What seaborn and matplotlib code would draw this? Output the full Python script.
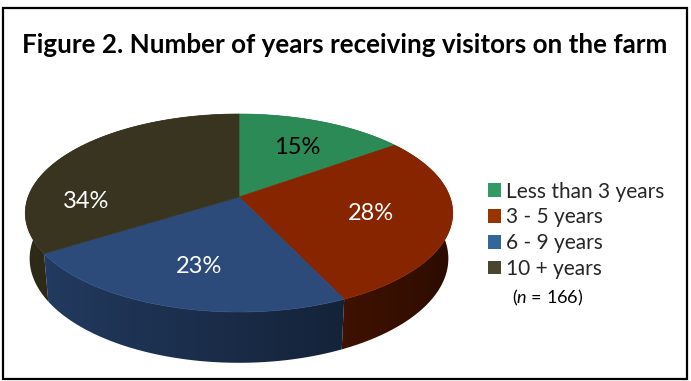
import numpy as np
import matplotlib
matplotlib.use("Agg")
import matplotlib.pyplot as plt
from matplotlib.patches import Polygon, Rectangle, Patch
import matplotlib.colors as mcolors
import seaborn as sns

# ---- data ----
categories = ["Less than 3 years", "3 - 5 years", "6 - 9 years", "10 + years"]
shares = [15, 28, 23, 34]
top_colors = ["#2C8A56", "#872500", "#2C4B7B", "#38341F"]
legend_colors = ["#339966", "#993300", "#336699", "#4A4530"]
label_colors = ["black", "white", "white", "white"]
title = "Figure 2. Number of years receiving visitors on the farm"
note = "($n$ = 166)"

# ---- style ----
sns.set_theme(style="white")
plt.rcParams["font.family"] = ["Lato", "DejaVu Sans"]
plt.rcParams["mathtext.fontset"] = "custom"
plt.rcParams["mathtext.it"] = "Lato:italic"
plt.rcParams["mathtext.rm"] = "Lato"

W, H = 691, 381
fig = plt.figure(figsize=(W / 100, H / 100), dpi=100)
ax = fig.add_axes([0, 0, 1, 1])
ax.set_xlim(0, W)
ax.set_ylim(H, 0)
ax.axis("off")

# ---- perspective projection of a tilted disc ----
CX, CY = 239.0, 197.0      # screen position of the disc centre
FOCAL, DIST = 1160.0, 5.5  # focal length and camera distance
ELEV = np.radians(27.2)    # viewing elevation
THICK = 0.245              # disc thickness (radius = 1)


def project(phi, r=1.0, z=0.0):
    """phi measured clockwise from 12 o'clock (far side of the disc)."""
    X = r * np.sin(phi)
    Y = r * np.cos(phi)
    depth = DIST + Y * np.cos(ELEV) - z * np.sin(ELEV)
    u = X * FOCAL / depth
    v = (Y * np.sin(ELEV) + z * np.cos(ELEV)) * FOCAL / depth
    return CX + u, CY - v


def shade_factor(nx):
    return 0.57 - 0.25 * nx


fracs = np.array(shares, dtype=float) / sum(shares)
bounds = np.concatenate([[0], np.cumsum(fracs)]) * 2 * np.pi

# map screen x on the front rim to the horizontal component of the wall normal
front_phi = np.linspace(np.pi / 2 - 0.3, 3 * np.pi / 2 + 0.3, 600)
front_x, _ = project(front_phi)
order = np.argsort(front_x)
fx_sorted = front_x[order]
nx_sorted = np.sin(front_phi)[order]

# side walls: one shaded gradient per slice, clipped to the wall outline
for i in range(len(shares)):
    ph = np.linspace(bounds[i], bounds[i + 1], 200)
    tx, ty = project(ph)
    bx, by = project(ph[::-1], z=-THICK)
    pts = np.column_stack([np.concatenate([tx, bx]), np.concatenate([ty, by])])
    x0, x1 = pts[:, 0].min() - 1, pts[:, 0].max() + 1
    y0, y1 = pts[:, 1].min() - 1, pts[:, 1].max() + 1
    xs = np.linspace(x0, x1, 256)
    nx = np.interp(xs, fx_sorted, nx_sorted)
    base = np.array(mcolors.to_rgb(top_colors[i]))
    row = np.clip(base[None, :] * shade_factor(nx)[:, None], 0, 1)
    img = np.repeat(row[None, :, :], 2, axis=0)
    wall = Polygon(pts, closed=True, facecolor="none", edgecolor="none")
    ax.add_patch(wall)
    im = ax.imshow(img, extent=(x0, x1, y1, y0), aspect="auto",
                   interpolation="bilinear", zorder=2)
    im.set_clip_path(wall)
ax.set_xlim(0, W)
ax.set_ylim(H, 0)

# top faces
for i in range(len(shares)):
    ph = np.linspace(bounds[i], bounds[i + 1], 200)
    xs, ys = project(ph)
    pts = [(CX, CY)] + list(zip(xs, ys))
    ax.add_patch(Polygon(pts, closed=True, facecolor=top_colors[i],
                         edgecolor=top_colors[i], linewidth=0.5, zorder=3))

# percentage labels
label_r = [0.63, 0.63, 0.67, 0.72]
label_shift = [1.4, 0.6, -1.6, -32.8]
for i, s in enumerate(shares):
    mid = 0.5 * (bounds[i] + bounds[i + 1]) + np.radians(label_shift[i])
    x, y = project(mid, r=label_r[i])
    ax.text(x, y, f"{s}%", ha="center", va="center", fontsize=17,
            color=label_colors[i], zorder=5)

# title, scaled to span the frame
t = ax.text(344.5, 45, title, ha="center", va="center", fontsize=20,
            fontweight="bold", color="black")
fig.canvas.draw()
bb = t.get_window_extent(renderer=fig.canvas.get_renderer())
t.set_fontsize(20 * 645.0 / bb.width)

# legend
handles = [Patch(facecolor=c, edgecolor="none") for c in legend_colors]
leg = ax.legend(handles, categories, loc="upper left",
                bbox_to_anchor=(488 / W, 1 - 181.5 / H), frameon=False,
                fontsize=15, handlelength=0.62, handleheight=0.62,
                handletextpad=0.25, labelspacing=0.28, borderpad=0,
                borderaxespad=0)
ax.text(512, 298, note, ha="left", va="center", fontsize=13, color="black")

# outer frame
ax.add_patch(Rectangle((3.5, 8), 684, 371, fill=False, edgecolor="black",
                       linewidth=1.6, zorder=10))

fig.savefig("out.png", dpi=100)
